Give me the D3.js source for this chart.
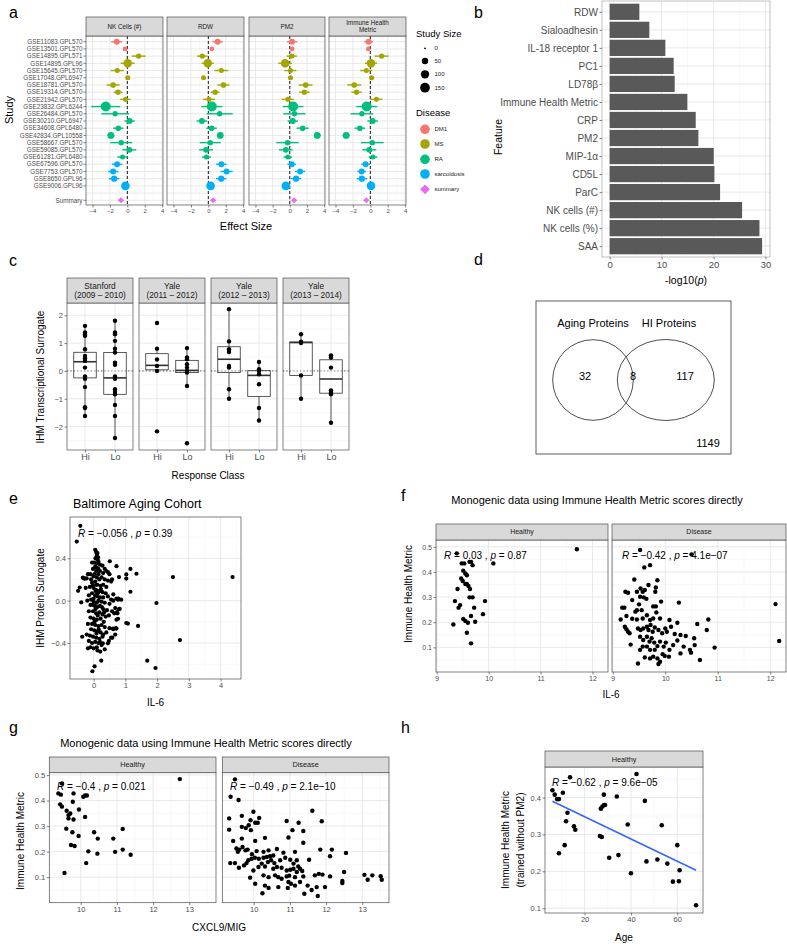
<!DOCTYPE html>
<html><head><meta charset="utf-8">
<script src="https://cdn.jsdelivr.net/npm/d3@7"></script>
<style>body{margin:0;background:#fff}svg{display:block;font-family:"Liberation Sans",Arial,Helvetica,sans-serif}</style>
</head><body><svg id="fig" width="787" height="944"></svg>
<script>
// ---------------- DATA ----------------
// Panel a
const aStudies = ["GSE11083.GPL570","GSE13501.GPL570","GSE14895.GPL571","GSE14895.GPL96","GSE15645.GPL570","GSE17048.GPL6947","GSE18781.GPL570","GSE19314.GPL570","GSE21942.GPL570","GSE23832.GPL6244","GSE26484.GPL570","GSE30210.GPL6947","GSE34608.GPL6480","GSE42834.GPL10558","GSE58667.GPL570","GSE59085.GPL570","GSE61281.GPL6480","GSE67596.GPL570","GSE7753.GPL570","GSE8650.GPL96","GSE9006.GPL96"];
const aDisease = ["DM1","DM1","MS","MS","MS","MS","MS","MS","MS","RA","RA","RA","RA","RA","RA","RA","RA","sarcoidosis","sarcoidosis","sarcoidosis","sarcoidosis"];
const aStudySize = [40,20,30,110,25,25,35,30,25,160,30,40,35,60,30,40,25,40,40,45,110];
const aFeatures = ["NK Cells (#)","RDW","PM2","Immune Health Metric"];
const aNkEffect  = [-1.22,-0.26,1.3,0.04,-1.15,0.04,-1.63,-1.07,-0.22,-2.48,-1.4,0.26,-1.04,-1.89,-0.7,0.22,-0.55,-1.18,-1.63,-1.52,-0.22];
const aNkCI      = [0.63,0.12,0.8,0.8,0.75,0.2,0.75,0.5,0.6,1.67,1.6,0.6,0.6,0.4,1.26,0.8,0.6,0.6,0.6,0.6,0.3];
const aRdwEffect = [1.07,0.4,-0.7,-0.07,1.5,-0.55,1.74,0.78,0.07,0.4,1.3,-0.74,0.37,1.37,0.22,-0.26,-0.22,1.5,2.1,1.48,0.26];
const aRdwCI     = [0.6,0.15,0.6,0.7,0.8,0.25,0.7,0.5,0.7,1.2,1.5,0.6,0.6,0.3,1.2,0.8,0.5,0.6,0.7,0.6,0.3];
const aPm2Effect = [0.27,0.27,0.23,-0.54,0.08,0.08,1.85,1.7,-0.23,0.39,0.54,0.35,1.5,3.2,-0.27,-0.46,-0.23,0.23,1.2,0.73,-0.46];
const aPm2CI     = [0.6,0.15,0.6,0.8,0.7,0.3,0.8,0.6,0.7,1.2,1.3,0.6,0.7,0.4,1.3,0.8,0.5,0.5,0.6,0.6,0.3];
const aIhmEffect = [-0.19,-0.23,1.3,0.08,-0.46,0.15,-1.85,-1.58,0.7,-0.42,-0.97,0.27,-1.2,-2.78,0.23,-0.12,0.31,-0.54,-1.0,-0.97,0.08];
const aIhmCI     = [0.5,0.15,0.8,0.7,0.7,0.3,0.8,0.6,0.7,1.2,1.3,0.6,0.6,0.4,1.3,0.8,0.5,0.5,0.5,0.6,0.3];
const aSummaryEffect = [-0.74,0.55,0.5,-0.46];
const aSummaryCI = [0.3,0.3,0.3,0.3];
const aAxisTicks = [-4,-2,0,2,4];
const aSizeLegend = [0,50,100,150];
const aDiseaseLegend = ["DM1","MS","RA","sarcoidosis","summary"];
const aColors = {DM1:"#F8766D", MS:"#A3A500", RA:"#00BF7D", sarcoidosis:"#00B0F6", summary:"#E76BF3"};

// Panel b
const bFeatures = ["RDW","Sialoadhesin","IL-18 receptor 1","PC1","LD78\u03B2","Immune Health Metric","CRP","PM2","MIP-1\u03B1","CD5L","ParC","NK cells (#)","NK cells (%)","SAA"];
const bValues = [5.72,7.64,10.73,12.33,12.52,14.96,16.57,17.08,20.04,20.17,21.26,25.5,28.84,29.35];
const bTicks = [0,10,20,30];

// Panel c
const cCohorts = [["Stanford","(2009 \u2013 2010)"],["Yale","(2011 \u2013 2012)"],["Yale","(2012 \u2013 2013)"],["Yale","(2013 \u2013 2014)"]];
const cClasses = ["Hi","Lo"];
const cPoints = [
  [1.62,1.38,1.31,1.26,0.78,0.54,0.46,0.36,0.12,-0.2,-0.28,-0.58,-1.3,-1.33,-1.62],
  [1.8,1.38,1.32,1.08,0.8,0.66,0.3,0.22,-0.2,-0.28,-0.66,-0.76,-0.84,-1.22,-1.62,-2.41],
  [1.72,0.8,0.41,0.18,0.0,-2.17],
  [0.82,0.48,0.42,0.24,0.12,0.0,-0.06,-0.54,-2.6],
  [2.22,1.06,0.78,0.68,0.18,0.12,-0.66,-1.0],
  [0.32,0.06,0.0,-0.12,-0.48,-1.33,-1.78],
  [1.32,1.05,1.0,-0.16,-1.0],
  [0.56,0.48,0.12,-0.7,-0.78,-0.84,-1.86]
];
const cQ1  = [-0.25,-0.84,0.04,-0.06,-0.06,-0.92,-0.16,-0.8];
const cMed = [0.33,-0.25,0.2,0.02,0.42,-0.16,1.02,-0.29];
const cQ3  = [0.67,0.66,0.62,0.38,0.87,0.01,1.04,0.4];
const cWLo = [-1.62,-2.41,0.0,-0.54,-1.0,-1.78,-1.0,-1.86];
const cWHi = [1.62,1.8,0.8,0.82,2.22,0.32,1.32,0.56];
const cTicks = [-2,-1,0,1,2];

// Panel d
const dSets = ["Aging Proteins","HI Proteins"];
const dCounts = [32,8,117,1149];

// Panel e
const ePoints = [[-0.42,0.707],[-0.53,0.558],[2.5,0.223],[4.38,0.223],[1.98,-0.022],[2.72,-0.372],[1.69,-0.567],[1.95,-0.636],[1.4,-0.239],[1.03,-0.211],[1.08,-0.217],[1.16,0.084],[1.03,0.248],[1.03,0.208],[1.16,0.3],[1.35,0.254],[0.72,0.326],[0.51,0.372],[0.8,0.223],[0.87,0.009],[0.77,0.009],[0.82,-0.078],[0.74,-0.109],[0.77,-0.171],[0.72,-0.264],[0.61,-0.264],[0.59,-0.35],[0.45,-0.403],[0.29,-0.403],[0.21,-0.481],[0.03,-0.62],[-0.04,-0.667],[0.24,-0.567],[-0.18,-0.45],[-0.36,-0.341],[-0.49,0.093],[-0.39,-0.016],[-0.34,0.217],[-0.28,0.208],[-0.44,0.124],
[0.05,0.48],[0.08,0.46],[0.1,0.44],[0.12,0.45],[0.1,0.42],[0.14,0.41],[0.06,0.4],[0.12,0.39],[0.15,0.37],[0.02,0.36],[-0.05,0.36],[0.1,0.35],[0.2,0.34],[0.28,0.33],[0.05,0.32],[0.15,0.3],[0.35,0.3],[0.4,0.28],[0.45,0.27],[-0.02,0.3],[0.08,0.28],[0.2,0.28],[0.3,0.26],[0.5,0.25],[0.58,0.2],[-0.1,0.25],[-0.18,0.25],[-0.22,0.21],[-0.3,0.21],[0.0,0.23],[0.1,0.22],[0.18,0.2],[0.25,0.22],[0.35,0.2],[0.45,0.19],[0.55,0.18],[0.05,0.18],[-0.05,0.17],[0.12,0.15],[0.22,0.14],[0.3,0.15],[0.4,0.13],[-0.12,0.13],[-0.25,0.12],[0.0,0.12],[0.08,0.1],[0.18,0.09],[0.28,0.08],[0.38,0.07],[0.62,0.06],[0.72,0.02],[0.78,0.02],[-0.05,0.07],[-0.15,0.05],[0.05,0.05],[0.12,0.04],[0.2,0.03],[0.3,0.03],[0.45,0.04],[0.55,0.01],[0.62,0.0],[-0.08,0.01],[-0.2,0.0],[0.0,-0.01],[0.1,-0.02],[0.15,0.0],[0.25,-0.01],[0.35,-0.02],[0.5,-0.03],[0.68,-0.07],[0.8,-0.08],[0.75,-0.12],[-0.1,-0.04],[0.04,-0.05],[0.12,-0.06],[0.2,-0.05],[0.3,-0.08],[0.42,-0.09],[0.58,-0.1],[0.65,-0.12],[-0.15,-0.1],[-0.02,-0.1],[0.08,-0.12],[0.18,-0.11],[0.28,-0.13],[0.38,-0.15],[0.48,-0.14],[-0.1,-0.16],[0.0,-0.17],[0.1,-0.18],[0.22,-0.17],[0.32,-0.2],[0.72,-0.18],[-0.18,-0.22],[-0.05,-0.22],[0.05,-0.23],[0.15,-0.24],[0.25,-0.23],[0.35,-0.25],[0.5,-0.26],[0.62,-0.27],[0.7,-0.26],[0.68,-0.32],[-0.08,-0.27],[0.02,-0.28],[0.12,-0.29],[0.22,-0.3],[0.3,-0.32],[0.4,-0.3],[0.55,-0.35],[-0.22,-0.32],[-0.12,-0.33],[-0.02,-0.34],[0.08,-0.35],[0.18,-0.36],[0.28,-0.34],[0.48,-0.38],[-0.15,-0.38],[-0.05,-0.4],[0.05,-0.39],[0.15,-0.4],[0.25,-0.42],[-0.1,-0.44],[0.0,-0.45],[0.1,-0.44],[0.35,-0.46],[0.03,0.25],[0.15,0.25],[-0.08,0.2],[0.08,0.15],[-0.02,-0.04],[0.06,-0.08],[0.13,-0.14],[0.03,-0.2],[0.16,-0.27],[0.09,-0.31],[0.0,0.02],[0.06,0.09],[-0.03,0.14],[0.1,0.31],[0.13,0.07],[0.23,0.11],[0.26,-0.06],[0.33,-0.11],[0.2,-0.39],[0.12,-0.47]];
const eXTicks = [0,1,2,3,4];
const eYTicks = [-0.4,0,0.4];
const eCorr = ["\u22120.056","0.39"];

// Panel f
const fHealthy = [[9.385,0.474],[9.48,0.434],[9.53,0.434],[9.63,0.44],[9.66,0.44],[9.69,0.427],[10.09,0.434],[9.51,0.405],[9.55,0.394],[9.58,0.387],[9.47,0.374],[9.5,0.364],[9.58,0.352],[9.55,0.352],[9.61,0.344],[9.64,0.332],[9.4,0.332],[9.63,0.299],[9.69,0.299],[9.35,0.284],[9.45,0.268],[9.42,0.258],[9.93,0.284],[9.72,0.258],[9.51,0.213],[9.55,0.205],[9.89,0.232],[9.66,0.225],[9.6,0.198],[9.74,0.202],[9.32,0.191],[9.58,0.158],[9.66,0.116],[11.7,0.49]];
const fDisease = [[9.52,0.487],[10.5,0.47],[9.6,0.418],[9.71,0.427],[9.41,0.37],[9.68,0.348],[9.85,0.367],[9.82,0.338],[9.53,0.334],[9.61,0.328],[9.57,0.321],[9.46,0.321],[9.24,0.321],[9.29,0.317],[9.81,0.321],[9.37,0.288],[9.52,0.301],[9.59,0.299],[9.64,0.293],[9.92,0.282],[9.77,0.263],[9.82,0.263],[9.18,0.258],[9.22,0.258],[9.5,0.271],[9.46,0.248],[9.43,0.242],[9.55,0.248],[9.83,0.239],[9.15,0.211],[9.26,0.225],[9.37,0.214],[9.46,0.211],[9.57,0.215],[9.65,0.228],[9.71,0.209],[9.77,0.215],[9.9,0.215],[10.08,0.209],[10.23,0.198],[9.23,0.182],[9.26,0.172],[9.29,0.162],[9.32,0.156],[9.48,0.175],[9.53,0.169],[9.58,0.175],[9.65,0.182],[9.68,0.169],[9.72,0.189],[9.76,0.162],[9.8,0.179],[9.87,0.169],[9.94,0.156],[10.0,0.175],[10.03,0.162],[10.11,0.182],[10.18,0.153],[10.29,0.149],[10.39,0.145],[10.55,0.136],[10.61,0.193],[10.79,0.169],[10.82,0.211],[10.26,0.278],[9.34,0.111],[9.52,0.142],[9.58,0.129],[9.65,0.142],[9.7,0.123],[9.74,0.136],[9.79,0.119],[9.85,0.105],[9.9,0.123],[9.97,0.103],[10.01,0.119],[10.08,0.09],[10.15,0.109],[10.23,0.127],[10.29,0.076],[10.35,0.103],[10.47,0.09],[10.49,0.079],[10.56,0.109],[10.94,0.099],[10.66,0.05],[9.65,0.103],[9.71,0.09],[9.61,0.06],[9.71,0.056],[9.77,0.063],[9.85,0.056],[9.99,0.066],[10.07,0.063],[9.87,0.034],[9.9,0.043],[9.48,0.036],[9.95,0.073],[12.1,0.272],[12.17,0.125],[9.8,0.09],[9.52,0.09],[9.57,0.103]];
const fXTicks = [9,10,11,12];
const fYTicks = [0.1,0.2,0.3,0.4,0.5];
const fCorrHealthy = ["0.03","0.87"];
const fCorrDisease = ["\u22120.42","4.1e\u221207"];

// Panel g
const gHealthy = [[9.48,0.467],[12.74,0.484],[9.38,0.428],[9.45,0.423],[9.8,0.428],[10.07,0.415],[10.12,0.42],[10.17,0.42],[9.78,0.395],[9.43,0.385],[9.48,0.376],[9.61,0.36],[9.95,0.365],[9.71,0.349],[9.66,0.33],[9.8,0.326],[10.12,0.336],[9.6,0.29],[9.77,0.276],[10.37,0.276],[11.16,0.289],[9.94,0.261],[10.47,0.251],[10.9,0.251],[9.73,0.226],[9.83,0.222],[10.21,0.201],[10.46,0.192],[10.95,0.199],[11.16,0.208],[11.38,0.188],[10.15,0.155],[9.55,0.116],[9.66,0.343]];
const gDisease = [[9.48,0.483],[9.36,0.415],[9.58,0.402],[9.99,0.356],[9.32,0.33],[9.67,0.34],[10.15,0.332],[9.91,0.323],[10.04,0.313],[10.11,0.313],[9.86,0.303],[9.78,0.292],[9.92,0.284],[9.32,0.286],[9.67,0.297],[10.91,0.32],[11.24,0.313],[11.37,0.281],[11.07,0.284],[11.62,0.36],[11.88,0.319],[10.96,0.255],[11.37,0.235],[10.31,0.254],[9.43,0.242],[9.67,0.251],[10.04,0.242],[9.52,0.212],[9.6,0.208],[9.69,0.218],[9.77,0.205],[9.83,0.208],[9.56,0.199],[9.95,0.19],[10.08,0.202],[10.27,0.199],[10.41,0.205],[10.64,0.21],[10.82,0.196],[11.14,0.199],[11.53,0.168],[11.84,0.208],[12.16,0.208],[12.11,0.182],[12.55,0.195],[9.35,0.155],[9.48,0.155],[9.59,0.137],[9.73,0.146],[9.85,0.166],[9.8,0.155],[9.94,0.172],[10.03,0.176],[10.14,0.172],[10.27,0.176],[10.36,0.179],[10.45,0.182],[10.54,0.185],[10.22,0.153],[10.31,0.142],[10.39,0.159],[10.48,0.166],[10.57,0.155],[10.73,0.166],[10.87,0.176],[11.01,0.168],[11.1,0.153],[11.19,0.166],[11.28,0.133],[11.34,0.124],[10.54,0.133],[10.64,0.14],[10.77,0.137],[10.91,0.126],[11.01,0.129],[11.1,0.133],[11.19,0.12],[11.23,0.142],[9.99,0.126],[10.13,0.14],[9.9,0.098],[10.27,0.107],[10.41,0.1],[10.59,0.107],[10.68,0.1],[10.91,0.103],[10.98,0.106],[11.14,0.1],[11.37,0.103],[11.69,0.107],[11.8,0.113],[11.9,0.11],[12.11,0.103],[12.5,0.12],[12.45,0.085],[12.45,0.077],[13.06,0.109],[13.15,0.09],[13.28,0.107],[13.51,0.104],[13.54,0.09],[10.04,0.074],[10.31,0.067],[10.41,0.058],[10.68,0.061],[10.94,0.058],[11.03,0.074],[11.14,0.067],[11.28,0.081],[11.49,0.067],[11.6,0.05],[11.74,0.061],[11.97,0.061],[10.24,0.037],[11.4,0.035],[11.77,0.026],[10.96,0.081],[10.77,0.094]];
const gXTicks = [10,11,12,13];
const gYTicks = [0.1,0.2,0.3,0.4,0.5];
const gCorrHealthy = ["\u22120.4","0.021"];
const gCorrDisease = ["\u22120.49","2.1e\u221210"];

// Panel h
const hAge = [6.1,7.1,8.1,8.9,10.6,13.7,12.6,12,11.4,8.9,15.4,16,26.6,27.4,27,27.7,28.4,28.8,28.3,30.6,33.9,34.6,38.6,40,42.4,46,46.7,51.4,53.3,55.7,58.1,60,60.7,61,68.1];
const hIHM = [0.42,0.408,0.396,0.396,0.413,0.455,0.359,0.336,0.271,0.249,0.322,0.313,0.296,0.293,0.37,0.376,0.38,0.38,0.408,0.237,0.403,0.244,0.327,0.195,0.464,0.391,0.227,0.232,0.325,0.221,0.172,0.271,0.173,0.203,0.108];
const hFitAge = [6.1,68.1];
const hFitIHM = [0.39,0.203];
const hXTicks = [20,40,60];
const hYTicks = [0.1,0.2,0.3,0.4];
const hCorr = ["\u22120.62","9.6e\u221205"];

// ---------------- HELPERS ----------------
const FONT = '"Liberation Sans", Arial, Helvetica, sans-serif';
const svg = d3.select("#fig");
svg.append("rect").attr("width",787).attr("height",944).attr("fill","#fff");
const GRID_MAJ = "#E6E6E6", GRID_MIN = "#F2F2F2", BORDER = "#4D4D4D", STRIP = "#D9D9D9";

function txt(g, x, y, s, size, o = {}) {
  const t = g.append("text").attr("x", x).attr("y", y).attr("font-size", size)
    .attr("font-family", FONT).attr("fill", o.fill || "#000")
    .attr("text-anchor", o.anchor || "start").text(s);
  if (o.rotate) t.attr("transform", `rotate(-90,${x},${y})`);
  if (o.italic) t.attr("font-style", "italic");
  return t;
}
function corr(g, x, y, r, p, size) {
  const t = g.append("text").attr("x", x).attr("y", y).attr("font-size", size).attr("font-family", FONT).attr("fill", "#000");
  t.append("tspan").attr("font-style", "italic").text("R");
  t.append("tspan").text(" = " + r + " , ");
  t.append("tspan").attr("font-style", "italic").text("p");
  t.append("tspan").text(" = " + p);
}
function grid(g, xs, ys, xMaj, xMin, yMaj, yMin) {
  const [x0, x1] = xs.range(), [y0, y1] = ys.range();
  g.append("rect").attr("x", Math.min(x0,x1)).attr("y", Math.min(y0,y1)).attr("width", Math.abs(x1-x0)).attr("height", Math.abs(y1-y0)).attr("fill", "#fff");
  (xMin||[]).forEach(v => g.append("line").attr("x1", xs(v)).attr("x2", xs(v)).attr("y1", y0).attr("y2", y1).attr("stroke", GRID_MIN).attr("stroke-width", 0.5));
  (yMin||[]).forEach(v => g.append("line").attr("y1", ys(v)).attr("y2", ys(v)).attr("x1", x0).attr("x2", x1).attr("stroke", GRID_MIN).attr("stroke-width", 0.5));
  (xMaj||[]).forEach(v => g.append("line").attr("x1", xs(v)).attr("x2", xs(v)).attr("y1", y0).attr("y2", y1).attr("stroke", GRID_MAJ).attr("stroke-width", 0.9));
  (yMaj||[]).forEach(v => g.append("line").attr("y1", ys(v)).attr("y2", ys(v)).attr("x1", x0).attr("x2", x1).attr("stroke", GRID_MAJ).attr("stroke-width", 0.9));
}
function border(g, xs, ys, col) {
  const [x0, x1] = xs.range(), [y0, y1] = ys.range();
  g.append("rect").attr("x", Math.min(x0,x1)).attr("y", Math.min(y0,y1)).attr("width", Math.abs(x1-x0)).attr("height", Math.abs(y1-y0))
    .attr("fill", "none").attr("stroke", col || BORDER).attr("stroke-width", 0.7);
}
function strip(g, x0, x1, y0, y1, lines, size) {
  g.append("rect").attr("x", x0).attr("y", y0).attr("width", x1-x0).attr("height", y1-y0).attr("fill", STRIP).attr("stroke", BORDER).attr("stroke-width", 0.7);
  const cy = (y0 + y1) / 2, lh = size * 1.15;
  lines.forEach((l, i) => txt(g, (x0+x1)/2, cy + (i - (lines.length-1)/2) * lh + size*0.35, l, size, {anchor: "middle", fill: "#1A1A1A"}));
}
function styleAxis(a, size) {
  a.attr("font-family", FONT).attr("font-size", size);
  a.select(".domain").remove();
  a.selectAll("line").attr("stroke", "#333").attr("stroke-width", 0.6);
  a.selectAll("text").attr("fill", "#4D4D4D");
  return a;
}
function axB(g, scale, ticks, y, size, fmt) {
  const ax = d3.axisBottom(scale).tickValues(ticks).tickSize(2.5).tickPadding(1.5);
  if (fmt) ax.tickFormat(fmt);
  return styleAxis(g.append("g").attr("transform", `translate(0,${y})`).call(ax), size);
}
function axL(g, scale, ticks, x, size, fmt) {
  const ax = d3.axisLeft(scale).tickValues(ticks).tickSize(2.5).tickPadding(1.5);
  if (fmt) ax.tickFormat(fmt);
  return styleAxis(g.append("g").attr("transform", `translate(${x},0)`).call(ax), size);
}
function dots(g, xs, ys, pts, r) {
  g.append("g").selectAll("circle").data(pts).join("circle")
    .attr("cx", d => xs(d[0])).attr("cy", d => ys(d[1])).attr("r", r).attr("fill", "#000");
}

// Panel letters
[["a",9,18],["b",474,18],["c",9,266],["d",474,265],["e",9,504],["f",401,501],["g",9,733],["h",401,733]]
  .forEach(([l,x,y]) => txt(svg, x, y, l, 16));

// ---------------- PANEL A ----------------
(function(){
  const g = svg.append("g");
  const panels = [[86,163],[167,244],[249,325],[329,406]];
  const top = 36, bot = 205;
  const effects = [aNkEffect, aRdwEffect, aPm2Effect, aIhmEffect];
  const cis = [aNkCI, aRdwCI, aPm2CI, aIhmCI];
  const yRow = d3.scaleLinear().domain([0, 22]).range([41.7, 200.3]);
  const rScale = d3.scaleSqrt().domain([0, 160]).range([0.9, 5]);
  const rows = d3.range(23);
  panels.forEach((p, k) => {
    const xs = d3.scaleLinear().domain([-4.75, 4.1]).range(p);
    const ysP = d3.scaleLinear().domain([0,1]).range([top, bot]);
    grid(g, xs, ysP, aAxisTicks, [-3,-1,1,3], [], []);
    rows.forEach(i => g.append("line").attr("x1", p[0]).attr("x2", p[1]).attr("y1", yRow(i)).attr("y2", yRow(i)).attr("stroke", GRID_MAJ).attr("stroke-width", 0.9));
    g.append("line").attr("x1", xs(0)).attr("x2", xs(0)).attr("y1", top).attr("y2", bot).attr("stroke", "#000").attr("stroke-width", 0.9).attr("stroke-dasharray", "3,2");
    aStudies.forEach((s, i) => {
      const col = aColors[aDisease[i]], e = effects[k][i], c = cis[k][i];
      g.append("line").attr("x1", xs(e - c)).attr("x2", xs(e + c)).attr("y1", yRow(i)).attr("y2", yRow(i)).attr("stroke", col).attr("stroke-width", 1.4);
      g.append("circle").attr("cx", xs(e)).attr("cy", yRow(i)).attr("r", rScale(aStudySize[i])).attr("fill", col);
    });
    const se = aSummaryEffect[k], sc = aSummaryCI[k];
    g.append("line").attr("x1", xs(se - sc)).attr("x2", xs(se + sc)).attr("y1", yRow(22)).attr("y2", yRow(22)).attr("stroke", aColors.summary).attr("stroke-width", 1.4);
    g.append("path").attr("d", d3.symbol(d3.symbolDiamond2, 22)()).attr("transform", `translate(${xs(se)},${yRow(22)})`).attr("fill", aColors.summary);
    border(g, xs, ysP);
    axB(g, xs, aAxisTicks, bot, 6, d3.format("d"));
    const lab = k === 3 ? ["Immune Health", "Metric"] : [aFeatures[k]];
    strip(g, p[0], p[1], 17, top, lab, 6.3);
  });
  const labs = aStudies.map((s, i) => [s, i]).concat([["Summary", 22]]);
  labs.forEach(([s, i]) => {
    g.append("line").attr("x1", 83.5).attr("x2", 86).attr("y1", yRow(i)).attr("y2", yRow(i)).attr("stroke", "#333").attr("stroke-width", 0.6);
    txt(g, 82.5, yRow(i) + 2.2, s, 6.3, {anchor: "end", fill: "#4D4D4D"});
  });
  txt(g, 246, 230, "Effect Size", 11, {anchor: "middle"});
  txt(g, 12.5, 110, "Study", 11, {anchor: "middle", rotate: true});
  // legend
  txt(g, 416, 37, "Study Size", 9.5);
  aSizeLegend.forEach((v, i) => {
    const y = [48.3, 61, 74.3, 87.7][i];
    g.append("circle").attr("cx", 425).attr("cy", y).attr("r", rScale(v)).attr("fill", "#000");
    txt(g, 434.5, y + 2.1, String(v), 6, {fill: "#1A1A1A"});
  });
  txt(g, 416, 115.5, "Disease", 9.5);
  aDiseaseLegend.forEach((d, i) => {
    const y = [129.3, 144, 159.3, 174, 189.3][i];
    if (d === "summary") g.append("path").attr("d", d3.symbol(d3.symbolDiamond2, 60)()).attr("transform", `translate(425,${y})`).attr("fill", aColors[d]);
    else g.append("circle").attr("cx", 425).attr("cy", y).attr("r", 4.8).attr("fill", aColors[d]);
    txt(g, 434.5, y + 2.1, d, 6, {fill: "#1A1A1A"});
  });
})();

// ---------------- PANEL B ----------------
(function(){
  const g = svg.append("g");
  const xs = d3.scaleLinear().domain([-1.47, 30.87]).range([602, 770]);
  const ys = d3.scaleLinear().domain([0.4, 14.6]).range([1, 257]);
  grid(g, xs, ys, bTicks, [5,15,25], d3.range(1,15), []);
  bFeatures.forEach((f, i) => {
    g.append("rect").attr("x", xs(0)).attr("y", ys(i + 1 - 0.45)).attr("width", xs(bValues[i]) - xs(0))
      .attr("height", ys(i + 1 + 0.45) - ys(i + 1 - 0.45)).attr("fill", "#595959");
  });
  border(g, xs, ys, "#A6A6A6");
  axB(g, xs, bTicks, 257, 9.5);
  axL(g, ys, d3.range(1,15), 602, 10, i => bFeatures[i-1]);
  const t = txt(g, 686, 284, "-log10(", 10.5, {anchor: "middle"});
  t.append("tspan").attr("font-style", "italic").text("p");
  t.append("tspan").text(")");
  txt(g, 501.5, 137, "Feature", 10.5, {anchor: "middle", rotate: true});
})();

// ---------------- PANEL C ----------------
(function(){
  const g = svg.append("g");
  const panels = [[67,133],[139,205],[211,277],[283,349]];
  const ys = d3.scaleLinear().domain([-2.84, 2.44]).range([450, 303]);
  panels.forEach((p, k) => {
    const xs = d3.scaleLinear().domain([0.4, 2.6]).range(p);
    grid(g, xs, ys, [1,2], [], cTicks, [-2.5,-1.5,-0.5,0.5,1.5]);
    g.append("line").attr("x1", p[0]).attr("x2", p[1]).attr("y1", ys(0)).attr("y2", ys(0)).attr("stroke", "#4D4D4D").attr("stroke-width", 1).attr("stroke-dasharray", "1.2,2.2");
    [0,1].forEach(j => {
      const gi = k*2 + j, cx = xs(j+1), hw = 0.375 * (xs(2) - xs(1));
      g.append("line").attr("x1", cx).attr("x2", cx).attr("y1", ys(cQ3[gi])).attr("y2", ys(cWHi[gi])).attr("stroke", "#333").attr("stroke-width", 0.8);
      g.append("line").attr("x1", cx).attr("x2", cx).attr("y1", ys(cQ1[gi])).attr("y2", ys(cWLo[gi])).attr("stroke", "#333").attr("stroke-width", 0.8);
      g.append("rect").attr("x", cx - hw).attr("y", ys(cQ3[gi])).attr("width", 2*hw).attr("height", ys(cQ1[gi]) - ys(cQ3[gi]))
        .attr("fill", "#fff").attr("fill-opacity", 0.3).attr("stroke", "#333").attr("stroke-width", 0.8);
      g.append("line").attr("x1", cx - hw).attr("x2", cx + hw).attr("y1", ys(cMed[gi])).attr("y2", ys(cMed[gi])).attr("stroke", "#333").attr("stroke-width", 1.6);
      dots(g, v => v, ys, cPoints[gi].map(v => [cx, v]), 2.2);
    });
    border(g, xs, ys);
    axB(g, xs, [1,2], 450, 9, i => cClasses[i-1]);
    strip(g, p[0], p[1], 278, 303, cCohorts[k], 8.3);
  });
  axL(g, ys, cTicks, 67, 7.5, d3.format("d"));
  txt(g, 208, 478.5, "Response Class", 10, {anchor: "middle"});
  txt(g, 43.5, 377, "IHM Transcriptional Surrogate", 10, {anchor: "middle", rotate: true});
})();

// ---------------- PANEL D ----------------
(function(){
  const g = svg.append("g");
  g.append("rect").attr("x", 536).attr("y", 301).attr("width", 195).attr("height", 153).attr("fill", "none").attr("stroke", "#4D4D4D").attr("stroke-width", 0.9);
  g.append("ellipse").attr("cx", 593).attr("cy", 380).attr("rx", 40.3).attr("ry", 40.3).attr("fill", "none").attr("stroke", "#000").attr("stroke-width", 0.7);
  g.append("ellipse").attr("cx", 665.8).attr("cy", 380).attr("rx", 48.5).attr("ry", 40.5).attr("fill", "none").attr("stroke", "#000").attr("stroke-width", 0.7);
  txt(g, 593, 327, dSets[0], 11, {anchor: "middle"});
  txt(g, 669, 327, dSets[1], 11, {anchor: "middle"});
  txt(g, 585, 380, String(dCounts[0]), 11, {anchor: "middle"});
  txt(g, 633, 380, String(dCounts[1]), 11, {anchor: "middle"});
  txt(g, 685, 380, String(dCounts[2]), 11, {anchor: "middle"});
  txt(g, 708, 447, String(dCounts[3]), 11, {anchor: "middle"});
})();

// ---------------- PANEL E ----------------
(function(){
  const g = svg.append("g");
  const xs = d3.scaleLinear().domain([-0.745, 4.645]).range([70, 241]);
  const ys = d3.scaleLinear().domain([-0.74, 0.79]).range([679, 517]);
  grid(g, xs, ys, eXTicks, [0.5,1.5,2.5,3.5,4.5], eYTicks, [-0.6,-0.2,0.2,0.6]);
  dots(g, xs, ys, ePoints, 2.1);
  border(g, xs, ys);
  axB(g, xs, eXTicks, 679, 7.5, d3.format("d"));
  axL(g, ys, eYTicks, 70, 7.5, d3.format(".1f"));
  corr(g, 78, 537, eCorr[0], eCorr[1], 10);
  txt(g, 73, 508, "Baltimore Aging Cohort", 12.5);
  txt(g, 155.5, 705.5, "IL-6", 10, {anchor: "middle"});
  txt(g, 43.5, 598, "IHM Protein Surrogate", 10, {anchor: "middle", rotate: true});
})();

// ---------------- PANEL F ----------------
(function(){
  const g = svg.append("g");
  const ys = d3.scaleLinear().domain([0.002, 0.527]).range([672, 540]);
  const defs = [[[436,608], fHealthy, "Healthy", fCorrHealthy, 444], [[612,786], fDisease, "Disease", fCorrDisease, 622]];
  defs.forEach(([r, pts, name, c, cx]) => {
    const xs = d3.scaleLinear().domain([8.985, 12.3]).range(r);
    grid(g, xs, ys, fXTicks, [9.5,10.5,11.5], fYTicks, [0.05,0.15,0.25,0.35,0.45]);
    dots(g, xs, ys, pts, 2.2);
    border(g, xs, ys);
    axB(g, xs, fXTicks, 672, 7, d3.format("d"));
    strip(g, r[0], r[1], 524, 540, [name], 7);
    corr(g, cx, 558.5, c[0], c[1], 10);
  });
  axL(g, ys, fYTicks, 436, 7, d3.format(".1f"));
  txt(g, 597, 504, "Monogenic data using Immune Health Metric scores directly", 11, {anchor: "middle"});
  txt(g, 611, 698, "IL-6", 10, {anchor: "middle"});
  txt(g, 411.5, 594, "Immune Health Metric", 10, {anchor: "middle", rotate: true});
})();

// ---------------- PANEL G ----------------
(function(){
  const g = svg.append("g");
  const ys = d3.scaleLinear().domain([0.0, 0.509]).range([902.7, 772.7]);
  const defs = [[[49.3,216], gHealthy, "Healthy", gCorrHealthy, 57], [[222.3,389], gDisease, "Disease", gCorrDisease, 230]];
  defs.forEach(([r, pts, name, c, cx]) => {
    const xs = d3.scaleLinear().domain([9.13, 13.74]).range(r);
    grid(g, xs, ys, gXTicks, [9.5,10.5,11.5,12.5,13.5], gYTicks, [0.05,0.15,0.25,0.35,0.45]);
    dots(g, xs, ys, pts, 2.2);
    border(g, xs, ys);
    axB(g, xs, gXTicks, 902.7, 7.5, d3.format("d"));
    strip(g, r[0], r[1], 757, 772.7, [name], 7.3);
    corr(g, cx, 789.5, c[0], c[1], 10);
  });
  axL(g, ys, gYTicks, 49.3, 7.5, d3.format(".1f"));
  txt(g, 206, 747, "Monogenic data using Immune Health Metric scores directly", 11, {anchor: "middle"});
  txt(g, 219, 930.5, "CXCL9/MIG", 10, {anchor: "middle"});
  txt(g, 23.5, 841, "Immune Health Metric", 10, {anchor: "middle", rotate: true});
})();

// ---------------- PANEL H ----------------
(function(){
  const g = svg.append("g");
  const xs = d3.scaleLinear().domain([2.9, 71.1]).range([545, 703]);
  const ys = d3.scaleLinear().domain([0.087, 0.483]).range([913, 767]);
  grid(g, xs, ys, hXTicks, [10,30,50,70], hYTicks, [0.15,0.25,0.35,0.45]);
  dots(g, xs, ys, hAge.map((a, i) => [a, hIHM[i]]), 2.3);
  g.append("line").attr("x1", xs(hFitAge[0])).attr("x2", xs(hFitAge[1])).attr("y1", ys(hFitIHM[0])).attr("y2", ys(hFitIHM[1]))
    .attr("stroke", "#3366FF").attr("stroke-width", 1.6);
  border(g, xs, ys);
  axB(g, xs, hXTicks, 913, 7.5, d3.format("d"));
  axL(g, ys, hYTicks, 545, 7.5, d3.format(".1f"));
  strip(g, 545, 703, 751, 767, ["Healthy"], 7.3);
  corr(g, 552, 785.5, hCorr[0], hCorr[1], 10);
  txt(g, 624, 940.5, "Age", 10, {anchor: "middle"});
  txt(g, 508.5, 840, "Immune Health Metric", 10, {anchor: "middle", rotate: true});
  txt(g, 523.5, 840, "(trained without PM2)", 10, {anchor: "middle", rotate: true});
})();
</script></body></html>
